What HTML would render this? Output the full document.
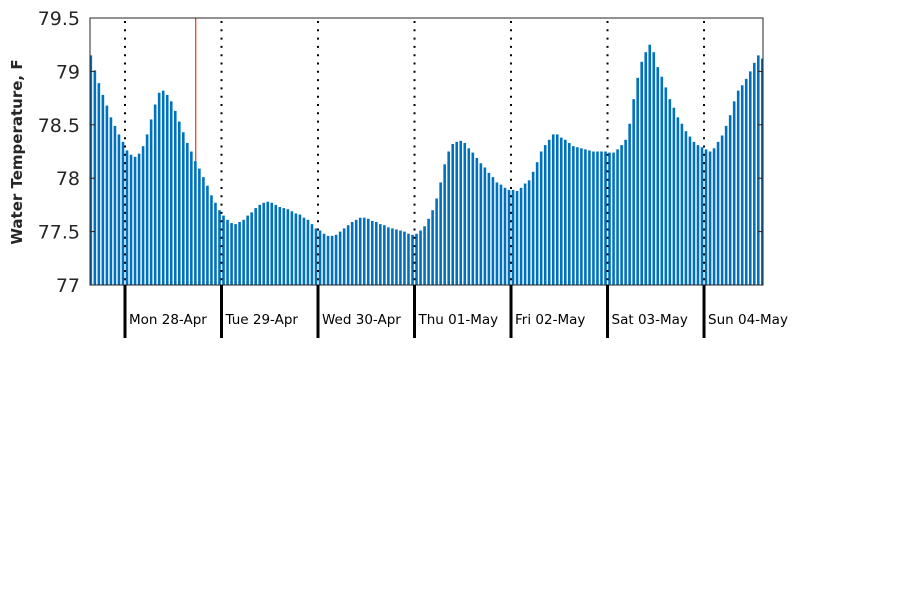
<!DOCTYPE html>
<html><head><meta charset="utf-8"><style>
body{margin:0;background:#fff;}
svg{display:block;font-family:"DejaVu Sans","Liberation Sans",sans-serif;}
</style></head><body>
<svg id="chart" width="900" height="600">
<g id="bars"></g>
<g id="deco"></g>
<rect x="90" y="18" width="673" height="267" fill="none" stroke="#262626" stroke-width="1"/>
<g id="yaxis"></g>
<g id="xaxis"></g>
<text x="22" y="152" transform="rotate(-90 22 152)" text-anchor="middle" font-size="15" font-weight="bold" fill="#262626">Water Temperature, F</text>
</svg>
<script>
const temps = [79.15,79.01,78.89,78.78,78.68,78.57,78.49,78.41,78.34,78.26,78.22,78.20,78.23,78.30,78.41,78.55,78.69,78.80,78.82,78.78,78.72,78.63,78.53,78.43,
78.33,78.25,78.16,78.09,78.01,77.93,77.84,77.77,77.70,77.65,77.61,77.58,77.57,77.59,77.61,77.65,77.68,77.72,77.75,77.77,77.78,77.77,77.75,77.73,
77.72,77.71,77.69,77.67,77.66,77.63,77.61,77.57,77.53,77.51,77.48,77.46,77.46,77.47,77.50,77.53,77.56,77.59,77.61,77.63,77.63,77.62,77.60,77.59,
77.57,77.56,77.54,77.53,77.52,77.51,77.50,77.48,77.47,77.48,77.51,77.55,77.62,77.70,77.81,77.96,78.13,78.25,78.32,78.34,78.35,78.33,78.28,78.24,
78.19,78.14,78.10,78.05,78.01,77.96,77.94,77.91,77.89,77.89,77.88,77.91,77.95,77.98,78.06,78.15,78.25,78.31,78.36,78.41,78.41,78.38,78.36,78.33,
78.30,78.29,78.28,78.27,78.26,78.25,78.25,78.25,78.25,78.24,78.24,78.27,78.31,78.36,78.51,78.74,78.94,79.09,79.18,79.25,79.18,79.04,78.95,78.85,
78.74,78.66,78.57,78.51,78.44,78.39,78.34,78.31,78.29,78.27,78.25,78.28,78.34,78.40,78.49,78.59,78.72,78.82,78.87,78.93,79.00,79.08,79.15,79.12];
const dayLabels = ["Mon 28-Apr","Tue 29-Apr","Wed 30-Apr","Thu 01-May","Fri 02-May","Sat 03-May","Sun 04-May"];
const yTicks = [77,77.5,78,78.5,79,79.5];
const firstMidnightIndex = 8.5;
const markerIndex = 26.1;

const NS="http://www.w3.org/2000/svg";
const L=90,R=763,T=18,B=285,yMin=77,yMax=79.5,step=4.021;
const xOf=i=>125+(i-firstMidnightIndex)*step;
const yOf=v=>B-(v-yMin)/(yMax-yMin)*(B-T);
function mk(tag,attrs,parent){const e=document.createElementNS(NS,tag);for(const k in attrs)e.setAttribute(k,attrs[k]);parent.appendChild(e);return e;}
const bars=document.getElementById('bars'),deco=document.getElementById('deco'),ya=document.getElementById('yaxis'),xa=document.getElementById('xaxis');
temps.forEach((v,i)=>{
  const x=Math.max(L,xOf(i)-1.3), w=Math.min(xOf(i)+1.3,R)-x;
  const r=mk('rect',{x:x,y:yOf(v),width:w,height:B-yOf(v),fill:'#0072bd'},bars);
  
  
});
const mx=xOf(markerIndex);
const red=mk('line',{x1:mx,y1:T,x2:mx,y2:yOf(temps[Math.round(markerIndex)]),stroke:'#ff0000','stroke-width':1},deco);


dayLabels.forEach((lab,k)=>{
  const x=xOf(firstMidnightIndex+24*k);
  const d=mk('line',{x1:x,y1:T+3,x2:x,y2:B,stroke:'#000','stroke-width':2,'stroke-dasharray':'2,6.3'},deco);
  
  
  const t=mk('line',{x1:x,y1:B,x2:x,y2:338,stroke:'#000','stroke-width':3},xa);
  
  
  const tx=mk('text',{x:x+4,y:324,'font-size':13.5,fill:'#000'},xa);
  tx.textContent=lab;
  
  
});
yTicks.forEach(v=>{
  const y=yOf(v);
  mk('line',{x1:L,y1:y,x2:L+5,y2:y,stroke:'#262626'},ya);
  mk('line',{x1:R,y1:y,x2:R-5,y2:y,stroke:'#262626'},ya);
  const t=mk('text',{x:80,y:y+7,'text-anchor':'end','font-size':19,fill:'#262626'},ya);
  t.textContent=String(v);
  
  
});
</script>
</body></html>
